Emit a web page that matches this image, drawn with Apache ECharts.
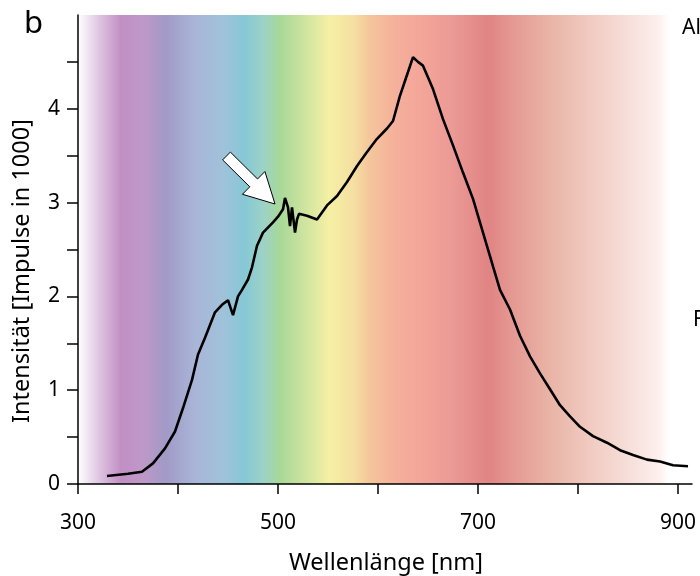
<!DOCTYPE html>
<html><head><meta charset="utf-8">
<script src="https://cdn.jsdelivr.net/npm/echarts@6/dist/echarts.min.js"></script>
<style>html,body{margin:0;padding:0;background:#fff}#c{width:700px;height:576px}</style>
</head><body><div id="c"></div>
<script>
// Data
const wavelength = [329,350,364,375,387,397,405,414,420,427,437,444,450,455,460,464,470,474,479,485,495,500,505,507,510,512,514,517,519,521,529,539,549,559,569,579,589,599,609,615,622,629,635,640,645,655,665,675,685,695,705,715,722,732,742,752,762,772,782,792,802,815,829,842,855,869,882,895,910];
const intensity  = [0.086,0.11,0.13,0.22,0.38,0.56,0.81,1.11,1.38,1.56,1.83,1.91,1.96,1.8,2.0,2.07,2.18,2.31,2.54,2.68,2.79,2.85,2.93,3.05,2.95,2.75,2.95,2.68,2.82,2.88,2.86,2.82,2.97,3.07,3.22,3.39,3.54,3.68,3.79,3.87,4.14,4.36,4.55,4.5,4.46,4.21,3.89,3.61,3.32,3.04,2.68,2.32,2.07,1.86,1.58,1.36,1.18,1.01,0.84,0.72,0.61,0.51,0.44,0.36,0.31,0.26,0.24,0.20,0.19];
const xTickLabels = [300,500,700,900];
const yTickLabels = [0,1,2,3,4];
// spectrum background colour stops (nm, colour)
const specNm  = [300,323,343,364,388,417,445,466,486,502,527,551,576,592,617,649,674,711,731,772,813,853,882,890,914];
const specCol = ['#ffffff','#dcc0e0','#c18fc3','#bf98c8','#a19ac6','#a9b5d8','#a0c2da','#86c8d6','#9dd2c6','#a8d898','#cfe4a0','#f5f0a4','#f5dfa2','#f4c59b','#f5b09c','#f3a398','#eb9a95','#e08484','#e49690','#e9b4a6','#f1cbc2','#f7e0db','#fdf0ee','#ffffff','#ffffff'];

const XMIN = 300, XMAX = 914;
const chart = echarts.init(document.getElementById('c'));
const stops = specNm.map((n,i)=>({offset:(n-XMIN)/(XMAX-XMIN), color:specCol[i]}));
const font = '"Noto Sans", "Open Sans", sans-serif';

// arrow geometry
const T=[275,204], S=[226.5,156];
const dx=T[0]-S[0], dy=T[1]-S[1], L=Math.hypot(dx,dy);
const u=[dx/L,dy/L], nv=[-u[1],u[0]];
const hl=30, hw=16, sw=5.5;
const B=[T[0]-hl*u[0], T[1]-hl*u[1]];
const P=(p,a)=>[p[0]+a*nv[0], p[1]+a*nv[1]];
const arrowPts=[P(S,sw),P(B,sw),P(B,hw),T,P(B,-hw),P(B,-sw),P(S,-sw)];

chart.setOption({
  animation:false,
  grid:{left:78,right:8,top:15,bottom:92,show:true,borderWidth:0,
        backgroundColor:new echarts.graphic.LinearGradient(0,0,1,0,stops)},
  xAxis:{type:'value',min:XMIN,max:XMAX,interval:100,
    axisLine:{show:true,lineStyle:{color:'#000',width:1.5}},
    axisTick:{show:true,length:10,inside:false,lineStyle:{color:'#000',width:1.5}},
    splitLine:{show:false},
    axisLabel:{color:'#000',fontSize:21,fontFamily:font,margin:29,
      showMaxLabel:false,
      formatter:v=>xTickLabels.includes(v)?String(v):''}},
  yAxis:{type:'value',min:0,max:5,interval:0.5,
    axisLine:{show:true,lineStyle:{color:'#000',width:1.5}},
    axisTick:{show:true,length:11,lineStyle:{color:'#000',width:1.5}},
    splitLine:{show:false},
    axisLabel:{color:'#000',fontSize:21,fontFamily:font,margin:18,
      showMaxLabel:false,
      formatter:v=>yTickLabels.includes(v)?String(v):''}},
  series:[{type:'line',data:wavelength.map((w,i)=>[w,intensity[i]]),
    showSymbol:false,lineStyle:{color:'#000',width:2.6},z:5}],
  graphic:[
    {type:'text',left:24,top:9,style:{text:'b',fontSize:31,fontFamily:font,fill:'#000'}},
    {type:'text',x:22,y:271,rotation:Math.PI/2,style:{text:'Intensität [Impulse in 1000]',fontSize:23.5,fontFamily:font,fill:'#000',align:'center',verticalAlign:'middle'}},
    {type:'text',x:386,y:563,style:{text:'Wellenlänge [nm]',fontSize:23.5,fontFamily:font,fill:'#000',align:'center',verticalAlign:'middle'}},
    {type:'text',x:682,y:28,style:{text:'Al',fontSize:21,fontFamily:font,fill:'#000',verticalAlign:'middle'}},
    {type:'text',x:693,y:320,style:{text:'F',fontSize:21,fontFamily:font,fill:'#000',verticalAlign:'middle'}},
    {type:'polygon',z:10,shape:{points:arrowPts},style:{fill:'#fff',stroke:'#000',lineWidth:1}}
  ]
});
</script></body></html>
